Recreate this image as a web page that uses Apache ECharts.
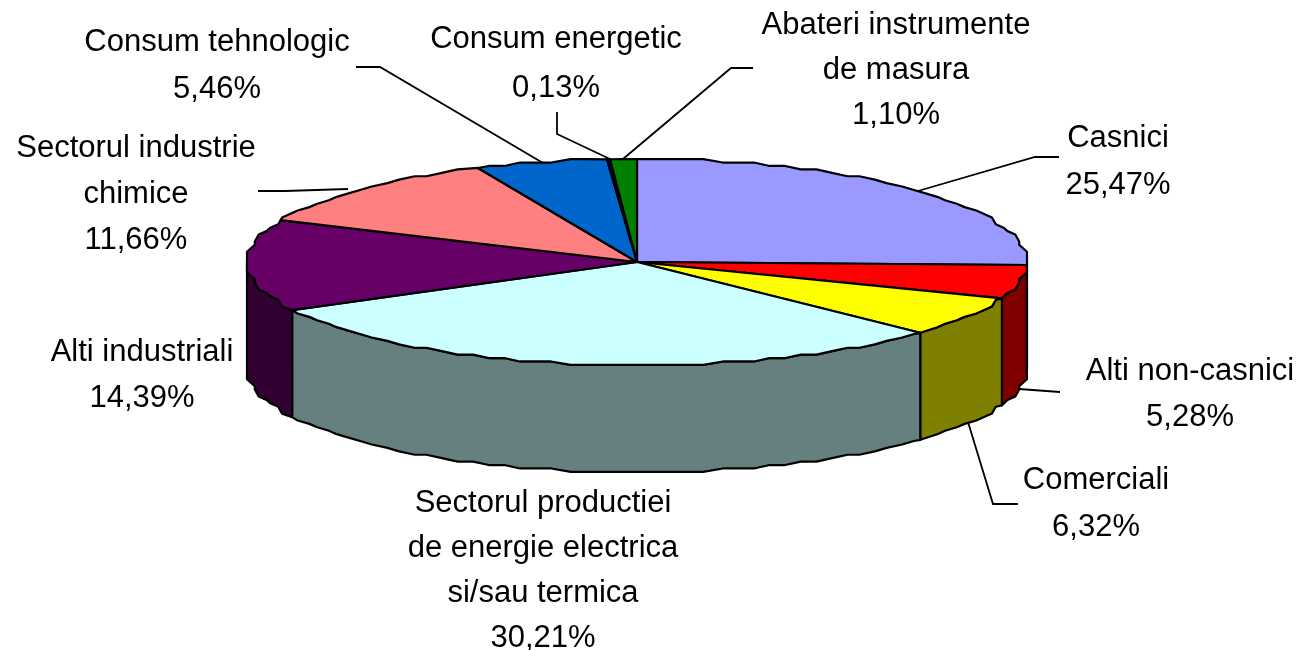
<!DOCTYPE html>
<html>
<head>
<meta charset="utf-8">
<style>html,body{margin:0;padding:0;background:#fff}#c{width:1305px;height:650px}</style>
<script src="https://cdn.jsdelivr.net/npm/echarts@6/dist/echarts.min.js"></script>
</head>
<body>
<div id="c"></div>
<script>
const categories = ['Casnici','Alti non-casnici','Comerciali','Sectorul productiei\nde energie electrica\nsi/sau termica','Alti industriali','Sectorul industrie\nchimice','Consum tehnologic','Consum energetic','Abateri instrumente\nde masura'];
const labelsPct = ['25,47%','5,28%','6,32%','30,21%','14,39%','11,66%','5,46%','0,13%','1,10%'];
const values = [25.47,5.28,6.32,30.21,14.39,11.66,5.46,0.13,1.10];
const topColors = ['#9999FF','#FF0000','#FFFF00','#CCFFFF','#660066','#FF8080','#0066CC','#000080','#008000'];
const sideColors = ['#4D4D80','#800000','#808000','#668080','#330033','#804040','#003366','#000040','#004000'];

// layout (kept apart from the data)
const cx = 637, cy = 262, rx = 390, ry = 103, depth = 107, gridX = 3.9, gridY = 3.43, stepDeg = 2.5;
const labelAnchor = [[1118,115],[1190,348.5],[1096,457],[543,481],[142,329.5],[136,125.5],[217,19],[556,14.5],[896,3]];
const labelLineHeight = [47,46,47,45,46,46,47,49,45];
const leaders = [
  [[918,191],[1035,157],[1059,157]],
  [[1019,389],[1060,392]],
  [[968,422],[993,504],[1018,504]],
  null,
  null,
  [[348,189],[285,191],[258,191]],
  [[543,163],[380,67],[356,67]],
  [[610,159],[557,134],[557,112]],
  [[623,159],[731,68],[753,68]]
];

const total = values.reduce((a,b)=>a+b,0);
function exactPt(deg){
  const t = deg*Math.PI/180;
  return [cx+rx*Math.sin(t), cy-ry*Math.cos(t)];
}
function pt(deg){
  const t = deg*Math.PI/180;
  return [cx+Math.round(rx*Math.sin(t)/gridX)*gridX, cy+Math.round(-ry*Math.cos(t)/gridY)*gridY];
}
function arc(a,b){
  const out=[exactPt(a)];
  for(let d=Math.ceil(a/stepDeg)*stepDeg; d<b; d+=stepDeg){ if(d>a+1 && d<b-1) out.push(pt(d)); }
  out.push(exactPt(b));
  return out;
}
function renderItem(params, api){
  const i = params.dataIndex;
  let before = 0;
  for(let k=0;k<i;k++) before += values[k];
  const a = before/total*360, b = (before+api.value(0))/total*360;
  const stroke = {stroke:'#000',lineWidth:2.2,lineJoin:'round'};
  const children = [];
  // front wall: only the part of the rim between 90 and 270 degrees
  const wa = Math.max(a,90), wb = Math.min(b,270);
  if(wb>wa){
    const edge = arc(wa,wb);
    const low = edge.slice().reverse().map(p=>[p[0],p[1]+depth]);
    children.push({type:'polygon',shape:{points:edge.concat(low)},
      style:Object.assign({fill:sideColors[i]},stroke)});
  }
  children.push({type:'polygon',shape:{points:[[cx,cy]].concat(arc(a,b))},
    style:Object.assign({fill:topColors[i]},stroke)});
  if(leaders[i]){
    children.push({type:'polyline',shape:{points:leaders[i]},
      style:{stroke:'#000',lineWidth:1.8,fill:null}});
  }
  children.push({type:'text',x:labelAnchor[i][0],y:labelAnchor[i][1],
    style:{text:categories[i]+'\n'+labelsPct[i],fill:'#000',
      font:'31px "Liberation Sans", Arial, sans-serif',
      align:'center',verticalAlign:'top',lineHeight:labelLineHeight[i]}});
  return {type:'group',children};
}
const chart = echarts.init(document.getElementById('c'),null,{renderer:'canvas'});
chart.setOption({
  animation:false,
  backgroundColor:'#fff',
  series:[{type:'custom',coordinateSystem:'none',silent:true,clip:false,
    data:values.map(v=>[v]),
    renderItem}]
});
</script>
</body>
</html>
